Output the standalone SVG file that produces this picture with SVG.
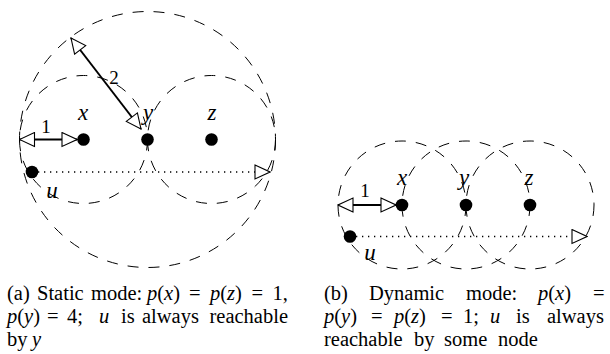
<svg xmlns="http://www.w3.org/2000/svg" width="610" height="354" viewBox="0 0 610 354">
<style>
.rng{fill:none;stroke:#000;stroke-width:1;stroke-dasharray:11 10}
.dot{fill:#000}
.len{stroke:#000;stroke-width:2;fill:none}
.path{stroke:#000;stroke-width:1.3;stroke-dasharray:1.3 4.7;fill:none}
text{font-family:'Liberation Serif','Times New Roman',serif}
.lbl{font-style:italic;font-size:23px;text-anchor:middle}
.num{font-size:19px;text-anchor:middle}
.cap{font-size:20.5px}
.i{font-style:italic}
</style>
<defs>
<marker id="oa" viewBox="0 0 17 16" refX="16" refY="8" markerWidth="17" markerHeight="16" markerUnits="userSpaceOnUse" orient="auto-start-reverse">
<path d="M1,1 L16,8 L1,15 Z" fill="#fff" stroke="#000" stroke-width="1.1"/>
</marker>
</defs>

<g id="connectors">
<line class="len" x1="19.5" y1="139.5" x2="77" y2="139.5" marker-start="url(#oa)" marker-end="url(#oa)"/>
<line class="len" x1="71" y1="38" x2="141" y2="129" marker-start="url(#oa)" marker-end="url(#oa)"/>
<line class="path" x1="32" y1="172" x2="270" y2="172" marker-end="url(#oa)"/>
<line class="len" x1="338" y1="205" x2="396" y2="205" marker-start="url(#oa)" marker-end="url(#oa)"/>
<line class="path" x1="350" y1="236.5" x2="587" y2="236.5" marker-end="url(#oa)"/>
</g>

<g id="ranges-a">
<circle class="rng" cx="83.5" cy="139.5" r="64"/>
<circle class="rng" cx="211.5" cy="139.5" r="64"/>
<circle class="rng" cx="147.5" cy="139.5" r="128"/>
</g>
<g id="ranges-b">
<circle class="rng" cx="402" cy="205" r="64"/>
<circle class="rng" cx="466" cy="205" r="64"/>
<circle class="rng" cx="530" cy="205" r="64"/>
</g>

<g id="a-x"><circle class="dot" cx="83.5" cy="139.5" r="6.3"/><text class="lbl" x="83" y="120">x</text></g>
<g id="a-y"><circle class="dot" cx="147.5" cy="139.5" r="6.3"/><text class="lbl" x="148" y="120">y</text></g>
<g id="a-z"><circle class="dot" cx="211.5" cy="139.5" r="6.3"/><text class="lbl" x="212" y="120">z</text></g>
<g id="a-u"><circle class="dot" cx="32" cy="172" r="6.3"/><text class="lbl" x="52" y="198">u</text></g>
<text class="num" x="46" y="133">1</text>
<text class="num" x="114" y="84">2</text>

<g id="b-x"><circle class="dot" cx="402" cy="205" r="6.3"/><text class="lbl" x="402" y="185">x</text></g>
<g id="b-y"><circle class="dot" cx="466" cy="205" r="6.3"/><text class="lbl" x="464" y="185">y</text></g>
<g id="b-z"><circle class="dot" cx="530" cy="205" r="6.3"/><text class="lbl" x="529" y="185">z</text></g>
<g id="b-u"><circle class="dot" cx="350" cy="236.5" r="6.3"/><text class="lbl" x="370" y="260">u</text></g>
<text class="num" x="365" y="197">1</text>

<g id="caption-a">
<text class="cap" y="300"><tspan x="7">(a)</tspan><tspan x="37">Static</tspan><tspan x="91">mode:</tspan><tspan x="147" class="i">p</tspan><tspan>(</tspan><tspan class="i">x</tspan><tspan>)</tspan><tspan x="189">=</tspan><tspan x="210" class="i">p</tspan><tspan>(</tspan><tspan class="i">z</tspan><tspan>)</tspan><tspan x="251.5">=</tspan><tspan x="272.5">1,</tspan></text>
<text class="cap" y="323"><tspan x="7" class="i">p</tspan><tspan>(</tspan><tspan class="i">y</tspan><tspan>)</tspan><tspan x="47">=</tspan><tspan x="67">4;</tspan><tspan x="99" class="i">u</tspan><tspan x="121">is</tspan><tspan x="142">always</tspan><tspan x="209.5">reachable</tspan></text>
<text class="cap" y="346"><tspan x="7">by</tspan><tspan x="32" class="i">y</tspan></text>
</g>
<g id="caption-b">
<text class="cap" y="300"><tspan x="324">(b)</tspan><tspan x="369">Dynamic</tspan><tspan x="466">mode:</tspan><tspan x="538" class="i">p</tspan><tspan>(</tspan><tspan class="i">x</tspan><tspan>)</tspan><tspan x="593">=</tspan></text>
<text class="cap" y="323"><tspan x="324" class="i">p</tspan><tspan>(</tspan><tspan class="i">y</tspan><tspan>)</tspan><tspan x="371">=</tspan><tspan x="394" class="i">p</tspan><tspan>(</tspan><tspan class="i">z</tspan><tspan>)</tspan><tspan x="441">=</tspan><tspan x="463">1;</tspan><tspan x="490" class="i">u</tspan><tspan x="516">is</tspan><tspan x="547">always</tspan></text>
<text class="cap" y="346"><tspan x="324">reachable</tspan><tspan x="414">by</tspan><tspan x="444">some</tspan><tspan x="498">node</tspan></text>
</g>
</svg>
